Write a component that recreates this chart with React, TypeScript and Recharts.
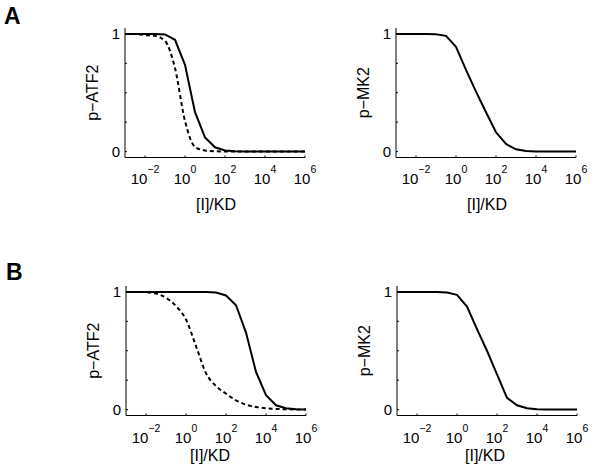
import { LineChart, Line, XAxis, YAxis, Label } from "recharts"

// concentration grid, as powers of ten ([I]/KD)
const exponents = [-3, -2.5, -2, -1.5, -1, -0.5, 0, 0.5, 1, 1.5, 2, 2.5, 3, 3.5, 4, 4.5, 5, 5.5, 6]

// panel A
const atf2SolidA = [1, 1, 1, 0.998, 0.995, 0.95, 0.737, 0.335, 0.12, 0.037, 0.01, 0.003, 0.001, 0, 0, 0, 0, 0, 0]
const atf2DashedA = [1, 1, 0.99, 0.983, 0.94, 0.71, 0.26, 0.04, 0.01, 0.003, 0.001, 0, 0, 0, 0, 0, 0, 0, 0]
const mk2A = [1, 1, 1, 0.999, 0.997, 0.983, 0.89, 0.694, 0.51, 0.334, 0.164, 0.065, 0.02, 0.006, 0.002, 0, 0, 0, 0]

// panel B
const atf2SolidB = [1, 1, 1, 1, 1, 1, 1, 1, 1, 0.995, 0.97, 0.887, 0.654, 0.32, 0.122, 0.037, 0.011, 0.003, 0.001]
const atf2DashedB = [1, 1, 0.997, 0.986, 0.95, 0.88, 0.765, 0.54, 0.31, 0.2, 0.136, 0.079, 0.042, 0.023, 0.011, 0.006, 0.003, 0.001, 0.0005]
const mk2B = [1, 1, 1, 1, 1, 0.995, 0.975, 0.875, 0.683, 0.5, 0.3, 0.1, 0.037, 0.011, 0.003, 0.001, 0, 0, 0]

const xTickExponents = [-2, 0, 2, 4, 6]
const yTicks = [0, 0.25, 0.5, 0.75, 1]
const yLabelled = [0, 1]

const rows = exponents.map((e, i) => ({
  x: 10 ** e,
  atf2SolidA: atf2SolidA[i],
  atf2DashedA: atf2DashedA[i],
  mk2A: mk2A[i],
  atf2SolidB: atf2SolidB[i],
  atf2DashedB: atf2DashedB[i],
  mk2B: mk2B[i],
}))

const FONT = "'Liberation Sans', Arial, sans-serif"
const PLOT_W = 180
const PLOT_H = 129.5

const XTick = (props: any) => {
  const { x, y, payload, labelY } = props
  const exp = Math.round(Math.log10(payload.value))
  return (
    <g>
      <line x1={x} y1={y} x2={x} y2={y - 2} stroke="#000" />
      <text x={x} y={y + labelY} textAnchor="middle" fontSize={15} fontFamily={FONT} fill="#000">
        10
        <tspan dy={-11.5} fontSize={10.5}>
          {exp < 0 ? `\u2212${-exp}` : `${exp}`}
        </tspan>
      </text>
    </g>
  )
}

const YTick = (props: any) => {
  const { x, y, payload } = props
  return (
    <g>
      <line x1={x} y1={y} x2={x + 2} y2={y} stroke="#000" />
      {yLabelled.includes(payload.value) && (
        <text x={x - 5} y={y + 5.5} textAnchor="end" fontSize={15} fontFamily={FONT} fill="#000">
          {payload.value}
        </text>
      )}
    </g>
  )
}

interface PanelProps {
  left: number
  top: number
  yLabel: string
  solidKey: string
  dashedKey?: string
  tickY: number
  xLabelY: number
  xLabelDx: number
}

const Panel = ({ left, top, yLabel, solidKey, dashedKey, tickY, xLabelY, xLabelDx }: PanelProps) => {
  const W = 320
  const H = 230
  return (
    <div style={{ position: "absolute", left: left - 125, top: top - 28 }}>
      <LineChart
        width={W}
        height={H}
        data={rows}
        margin={{ top: 28, left: 124, right: W - 125 - PLOT_W, bottom: H - 28 - PLOT_H - 1 }}
      >
        <XAxis
          dataKey="x"
          type="number"
          scale="log"
          domain={[1e-3, 1e6]}
          allowDataOverflow
          ticks={xTickExponents.map((e) => 10 ** e)}
          interval={0}
          tick={<XTick labelY={tickY} />}
          tickLine={false}
          tickSize={0}
          tickMargin={0}
          height={1}
          axisLine={{ stroke: "#000" }}
        >
          <Label
            content={({ viewBox }: any) => (
              <text
                x={viewBox.x + viewBox.width / 2 + xLabelDx}
                y={viewBox.y + xLabelY}
                textAnchor="middle"
                fontSize={16}
                fontFamily={FONT}
                fill="#000"
              >
                [I]/KD
              </text>
            )}
          />
        </XAxis>
        <YAxis
          type="number"
          domain={[-0.05, 1.05]}
          ticks={yTicks}
          interval={0}
          tick={<YTick />}
          tickLine={false}
          tickSize={0}
          tickMargin={0}
          width={1}
          axisLine={{ stroke: "#000" }}
        >
          <Label
            content={({ viewBox }: any) => {
              const cx = viewBox.x + viewBox.width - 33
              const cy = viewBox.y + viewBox.height / 2
              return (
                <text
                  x={cx}
                  y={cy}
                  transform={`rotate(-90 ${cx} ${cy})`}
                  textAnchor="middle"
                  dominantBaseline="central"
                  fontSize={16}
                  fontFamily={FONT}
                  fill="#000"
                >
                  {yLabel}
                </text>
              )
            }}
          />
        </YAxis>
        <Line
          dataKey={solidKey}
          type="linear"
          stroke="#000"
          strokeWidth={2}
          dot={false}
          isAnimationActive={false}
        />
        {dashedKey && (
          <Line
            dataKey={dashedKey}
            type="monotone"
            stroke="#000"
            strokeWidth={2}
            strokeDasharray="4 3"
            dot={false}
            isAnimationActive={false}
          />
        )}
      </LineChart>
    </div>
  )
}

export default function App() {
  return (
    <div
      style={{
        position: "absolute",
        left: 0,
        top: 0,
        width: 600,
        height: 468,
        overflow: "hidden",
        background: "#fff",
      }}
    >
      <svg width={600} height={468} style={{ position: "absolute", left: 0, top: 0 }}>
        <text x={4} y={24} fontSize={23} fontWeight="bold" fontFamily={FONT} fill="#000">
          A
        </text>
        <text x={6} y={280} fontSize={23} fontWeight="bold" fontFamily={FONT} fill="#000">
          B
        </text>
      </svg>
      <Panel left={124.5} top={28.1} yLabel="p−ATF2" solidKey="atf2SolidA" dashedKey="atf2DashedA" tickY={26.5} xLabelY={52.5} xLabelDx={1} />
      <Panel left={395.5} top={28.1} yLabel="p−MK2" solidKey="mk2A" tickY={26.5} xLabelY={52.5} xLabelDx={1} />
      <Panel left={126} top={286.4} yLabel="p−ATF2" solidKey="atf2SolidB" dashedKey="atf2DashedB" tickY={27.5} xLabelY={45.5} xLabelDx={-6} />
      <Panel left={396.5} top={286.4} yLabel="p−MK2" solidKey="mk2B" tickY={27.5} xLabelY={45.5} xLabelDx={-2} />
    </div>
  )
}
